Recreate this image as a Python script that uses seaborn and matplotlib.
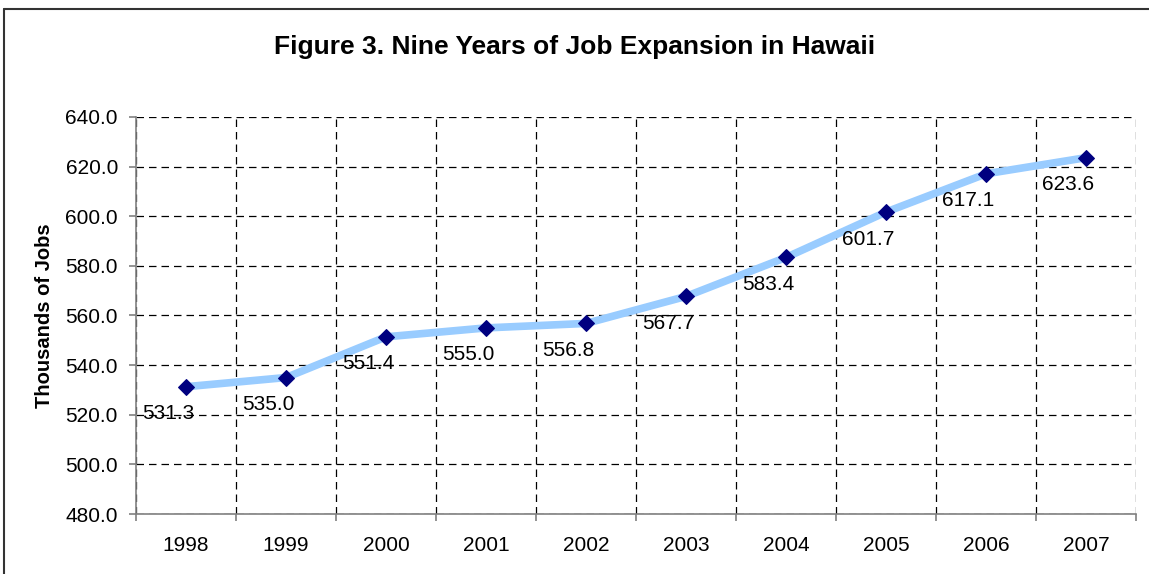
import pandas as pd
import seaborn as sns
import matplotlib.pyplot as plt
from matplotlib.lines import Line2D
from matplotlib.ticker import FixedLocator

# Values
years = ['1998', '1999', '2000', '2001', '2002', '2003', '2004', '2005', '2006', '2007']
jobs = [531.3, 535.0, 551.4, 555.0, 556.8, 567.7, 583.4, 601.7, 617.1, 623.6]
y_ticks = [480, 500, 520, 540, 560, 580, 600, 620, 640]

df = pd.DataFrame({'year': years, 'jobs': jobs})

sns.set_style('white')
plt.rcParams['font.family'] = ['Liberation Sans', 'DejaVu Sans']
plt.rcParams['text.color'] = 'black'
plt.rcParams['axes.labelcolor'] = 'black'

fig = plt.figure(figsize=(11.49, 5.74), dpi=100)
ax = fig.add_axes([0.1184, 0.1045, 0.8703, 0.6917])

sns.lineplot(data=df, x='year', y='jobs', ax=ax, color='#99CCFF', linewidth=5.5,
             marker='D', markersize=8, markerfacecolor='#000080',
             markeredgecolor='#000080', sort=False)

for i, v in enumerate(df['jobs']):
    ax.annotate(f'{v:.1f}', (i, v), xytext=(-18, -27), textcoords='offset pixels',
                ha='center', va='center', fontsize=15, color='black')

ax.set_xlim(-0.5, len(years) - 0.5)
ax.set_ylim(480, 640)
ax.set_yticks(y_ticks)
ax.set_yticklabels([f'{t:.1f}' for t in y_ticks])
ax.xaxis.set_minor_locator(FixedLocator([i - 0.5 for i in range(len(years) + 1)]))

ax.grid(False)
ax.grid(True, which='major', axis='y', color='black', linestyle=(0, (6, 4)), linewidth=0.9)
ax.grid(True, which='minor', axis='x', color='black', linestyle=(0, (6, 4)), linewidth=0.9)

ax.tick_params(axis='x', which='major', length=0, pad=16, labelsize=15, labelcolor='black')
ax.tick_params(axis='x', which='minor', length=5, width=1.2, color='#808080', direction='out', bottom=True)
ax.tick_params(axis='y', which='major', length=5, width=1.2, color='#808080', direction='out', pad=8,
               labelsize=15, left=True, labelcolor='black')

for side in ['top', 'right']:
    ax.spines[side].set_visible(False)
for side in ['left', 'bottom']:
    ax.spines[side].set_color('#808080')
    ax.spines[side].set_linewidth(1.2)

ax.set_xlabel('')
ax.set_ylabel('Thousands of Jobs', fontsize=14.5, fontweight='bold', labelpad=8)

fig.suptitle('Figure 3. Nine Years of Job Expansion in Hawaii', fontsize=19, fontweight='bold',
             x=0.5, y=0.918, va='center', color='black')

# frame of the original picture (cut at right and bottom)
fig.add_artist(Line2D([3.5 / 1149, 3.5 / 1149], [0, 1 - 8.5 / 574], color='#333333', lw=1.5))
fig.add_artist(Line2D([3.5 / 1149, 1], [1 - 8.5 / 574, 1 - 8.5 / 574], color='#333333', lw=1.5))

fig.savefig('out.png', dpi=100)
